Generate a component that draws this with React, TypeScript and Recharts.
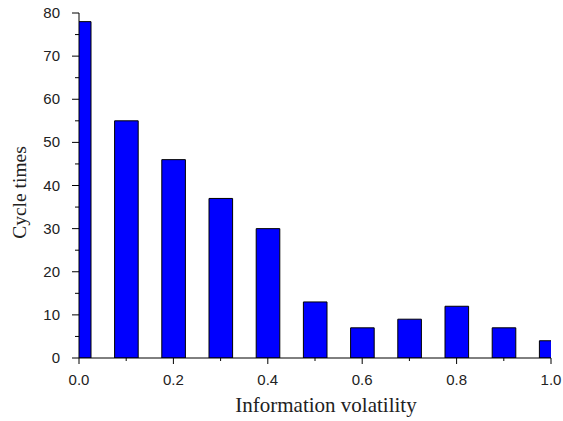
import React from 'react';
import { BarChart, Bar, XAxis, YAxis, Label } from 'recharts';

const volatility = [0.0, 0.1, 0.2, 0.3, 0.4, 0.5, 0.6, 0.7, 0.8, 0.9, 1.0];
const cycleTimes = [78, 55, 46, 37, 30, 13, 7, 9, 12, 7, 4];
const xTicks = [0, 0.1, 0.2, 0.3, 0.4, 0.5, 0.6, 0.7, 0.8, 0.9, 1.0];
const yTicks = [0, 5, 10, 15, 20, 25, 30, 35, 40, 45, 50, 55, 60, 65, 70, 75, 80];

const data = volatility.map((v, i) => ({ x: v, y: cycleTimes[i] }));

const W = 563;
const H = 421;
const margin = { top: 13, right: 12, left: 0, bottom: 0 };
const Y_AXIS_W = 79;
const X_AXIS_H = 63;
const plotW = W - Y_AXIS_W - margin.right;
const barPx = (plotW * 0.05);

const YTick = (props: any) => {
  const { y, payload } = props;
  const v = payload.value;
  const major = v % 10 === 0;
  const ax = Y_AXIS_W;
  return (
    <g>
      <line x1={ax - (major ? 7 : 4)} x2={ax} y1={y} y2={y} stroke="#000" strokeWidth={1} />
      {major && (
        <text x={ax - 19} y={y} dy={5} textAnchor="end" fontFamily="'Liberation Sans', Arial, sans-serif" fontSize={15} fill="#222">
          {v}
        </text>
      )}
    </g>
  );
};

const XTick = (props: any) => {
  const { x, payload } = props;
  const v = payload.value;
  const idx = Math.round(v * 10);
  const major = idx % 2 === 0;
  const ay = H - X_AXIS_H;
  return (
    <g>
      <line x1={x} x2={x} y1={ay} y2={ay + (major ? 6 : 3)} stroke="#000" strokeWidth={1} />
      {major && (
        <text x={x} y={ay + 27} textAnchor="middle" fontFamily="'Liberation Sans', Arial, sans-serif" fontSize={15} fill="#222">
          {v.toFixed(1)}
        </text>
      )}
    </g>
  );
};

const YTitle = (props: any) => {
  const vb = props.viewBox || {};
  const cx = 19;
  const cy = vb.y + vb.height / 2 + 7;
  return (
    <text x={cx} y={cy} transform={`rotate(-90, ${cx}, ${cy})`} textAnchor="middle" dominantBaseline="central"
      fontFamily="'Liberation Serif', 'Times New Roman', serif" fontSize={19.5} fill="#222">
      Cycle times
    </text>
  );
};

const XTitle = (props: any) => {
  const vb = props.viewBox || {};
  const cx = vb.x + vb.width / 2 + 11;
  const by = vb.y + vb.height - 9;
  return (
    <text x={cx} y={by} textAnchor="middle"
      fontFamily="'Liberation Serif', 'Times New Roman', serif" fontSize={21} fill="#222">
      Information volatility
    </text>
  );
};

export default function App() {
  return (
    <div style={{ position: 'absolute', left: 0, top: 0, width: W, height: H, background: '#fff' }}>
      <BarChart width={W} height={H} data={data} margin={margin}>
        <XAxis
          dataKey="x"
          type="number"
          domain={[0, 1]}
          allowDataOverflow
          ticks={xTicks}
          interval={0}
          height={X_AXIS_H}
          axisLine={{ stroke: '#000', strokeWidth: 1 }}
          tickLine={false}
          tick={<XTick />}
        >
          <Label content={<XTitle />} />
        </XAxis>
        <XAxis xAxisId="top" orientation="top" type="number" domain={[0, 1]} height={0} tick={false} tickLine={false} axisLine={{ stroke: '#000' }} />
        <YAxis
          type="number"
          domain={[0, 80]}
          allowDataOverflow
          ticks={yTicks}
          interval={0}
          width={Y_AXIS_W}
          axisLine={{ stroke: '#000', strokeWidth: 1 }}
          tickLine={false}
          tick={<YTick />}
        >
          <Label content={<YTitle />} />
        </YAxis>
        <YAxis yAxisId="right" orientation="right" width={0} tick={false} tickLine={false} axisLine={{ stroke: '#000' }} />
        <Bar dataKey="y" fill="#0000FF" stroke="#000" strokeWidth={1} barSize={barPx} isAnimationActive={false} />
      </BarChart>
    </div>
  );
}
